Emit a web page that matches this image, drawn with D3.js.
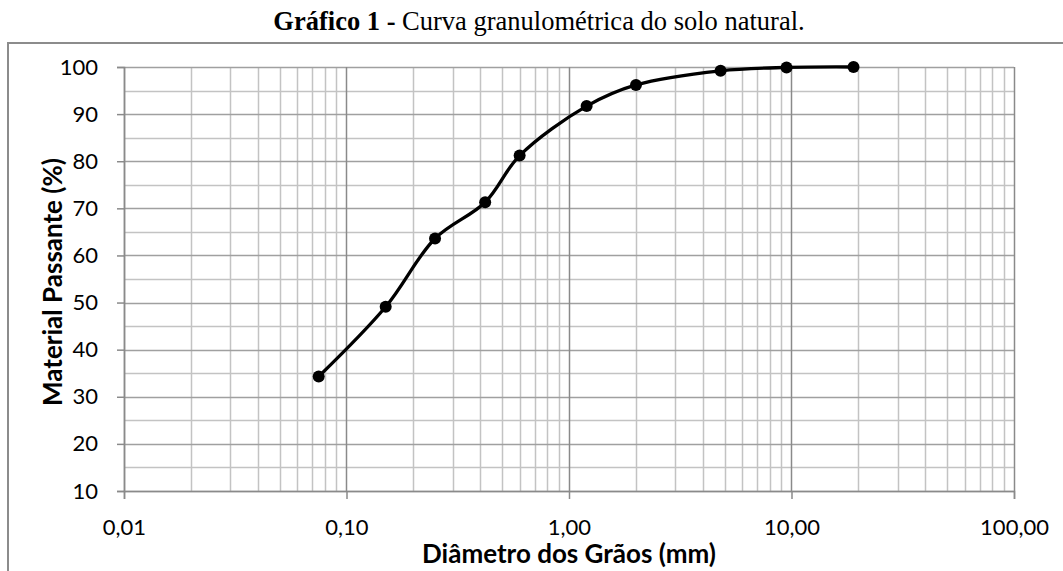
<!DOCTYPE html>
<html>
<head>
<meta charset="utf-8">
<script src="https://cdn.jsdelivr.net/npm/d3@7"></script>
<style>
  body { margin: 0; background: #fff; }
  svg { display: block; }
</style>
</head>
<body>
<div id="chart"></div>
<script>
const width = 1063,
      height = 571,
      margin = { top: 67, right: 49, bottom: 80, left: 124 };

const innerWidth = width - (margin.right + margin.left),
      innerHeight = height - (margin.top + margin.bottom);

// peneiras (mm) e material passante (%)
const diameters = [0.075, 0.15, 0.25, 0.42, 0.6, 1.2, 2.0, 4.8, 9.5, 19],
      passing = [34.3, 49.1, 63.6, 71.3, 81.2, 91.7, 96.2, 99.2, 99.9, 100];

const xTicks = [0.01, 0.1, 1, 10, 100],
      xTickLabels = ['0,01', '0,10', '1,00', '10,00', '100,00'],
      yTicks = [10, 20, 30, 40, 50, 60, 70, 80, 90, 100];

const data = diameters.map((d, i) => ({ d: d, p: passing[i] }));

const sans = 'Lato, "Open Sans", sans-serif';

const svg = d3.select('#chart').append('svg')
    .attr('width', width)
    .attr('height', height);

// moldura do gráfico
svg.append('rect')
    .attr('x', 8)
    .attr('y', 43)
    .attr('width', width + 10)
    .attr('height', height)
    .attr('fill', 'none')
    .attr('stroke', '#8c8c8c')
    .attr('stroke-width', 2);

const title = svg.append('text')
    .attr('x', 539)
    .attr('y', 30)
    .attr('text-anchor', 'middle')
    .style('font-family', '"Liberation Serif", "Times New Roman", serif')
    .style('font-size', '26.5px');
title.append('tspan').attr('font-weight', 'bold').text('Gráfico 1 - ');
title.append('tspan').text('Curva granulométrica do solo natural.');

const plot = svg.append('g')
    .attr('transform', `translate(${margin.left}, ${margin.top})`);

const xScale = d3.scaleLog()
    .domain([0.01, 100])
    .range([0, innerWidth]);

const yScale = d3.scaleLinear()
    .domain([10, 100])
    .range([innerHeight, 0]);

// grade vertical: menores em cada 2..9 por década
const minorX = [];
for (let e = -2; e < 2; e++) {
  for (let k = 2; k <= 9; k++) minorX.push(k * Math.pow(10, e));
}
plot.selectAll('.vminor')
  .data(minorX)
  .enter().append('line')
    .attr('class', 'vminor')
    .attr('x1', d => Math.round(xScale(d)) + 0.5)
    .attr('x2', d => Math.round(xScale(d)) + 0.5)
    .attr('y1', 0)
    .attr('y2', innerHeight)
    .attr('stroke', '#c3c3c3')
    .attr('stroke-width', 1.5);

// grade horizontal
const minorY = d3.range(15, 100, 10);
plot.selectAll('.hminor')
  .data(minorY)
  .enter().append('line')
    .attr('class', 'hminor')
    .attr('x1', 0)
    .attr('x2', innerWidth)
    .attr('y1', d => Math.round(yScale(d)) + 0.5)
    .attr('y2', d => Math.round(yScale(d)) + 0.5)
    .attr('stroke', '#c3c3c3')
    .attr('stroke-width', 1.5);

plot.selectAll('.hmajor')
  .data(yTicks)
  .enter().append('line')
    .attr('class', 'hmajor')
    .attr('x1', 0)
    .attr('x2', innerWidth)
    .attr('y1', d => Math.round(yScale(d)) + 0.5)
    .attr('y2', d => Math.round(yScale(d)) + 0.5)
    .attr('stroke', '#a0a0a0')
    .attr('stroke-width', 1.5);

plot.selectAll('.vmajor')
  .data(xTicks)
  .enter().append('line')
    .attr('class', 'vmajor')
    .attr('x1', d => Math.round(xScale(d)) + 0.5)
    .attr('x2', d => Math.round(xScale(d)) + 0.5)
    .attr('y1', 0)
    .attr('y2', innerHeight)
    .attr('stroke', '#8a8a8a')
    .attr('stroke-width', 1.5);

// eixos
const xAxis = plot.append('g')
    .attr('transform', `translate(0, ${innerHeight})`)
    .call(d3.axisBottom(xScale)
      .tickValues(xTicks)
      .tickFormat((d, i) => xTickLabels[i])
      .tickSize(8)
      .tickPadding(20));

const yAxis = plot.append('g')
    .call(d3.axisLeft(yScale)
      .tickValues(yTicks)
      .tickSize(7)
      .tickPadding(19));

[xAxis, yAxis].forEach(ax => {
  ax.select('.domain').attr('stroke', '#8a8a8a').attr('stroke-width', 1.5);
  ax.selectAll('.tick line').attr('stroke', '#8a8a8a').attr('stroke-width', 1.5);
  ax.selectAll('.tick text')
    .attr('fill', '#000')
    .style('font-family', sans)
    .style('font-size', '22px');
});

// curva suavizada
const line = d3.line()
    .x(d => xScale(d.d))
    .y(d => yScale(d.p))
    .curve(d3.curveCatmullRom.alpha(0.5));

plot.append('path')
    .datum(data)
    .attr('fill', 'none')
    .attr('stroke', '#000')
    .attr('stroke-width', 3.3)
    .attr('d', line);

plot.selectAll('.pt')
  .data(data)
  .enter().append('circle')
    .attr('class', 'pt')
    .attr('cx', d => xScale(d.d))
    .attr('cy', d => yScale(d.p))
    .attr('r', 6)
    .attr('fill', '#000');

// títulos dos eixos
svg.append('text')
    .attr('x', 569)
    .attr('y', 563)
    .attr('text-anchor', 'middle')
    .style('font-family', sans)
    .style('font-weight', 'bold')
    .style('font-size', '26px')
    .text('Diâmetro dos Grãos (mm)');

svg.append('text')
    .attr('transform', 'translate(62, 282) rotate(-90)')
    .attr('text-anchor', 'middle')
    .style('font-family', sans)
    .style('font-weight', 'bold')
    .style('font-size', '26px')
    .text('Material Passante (%)');
</script>
</body>
</html>
